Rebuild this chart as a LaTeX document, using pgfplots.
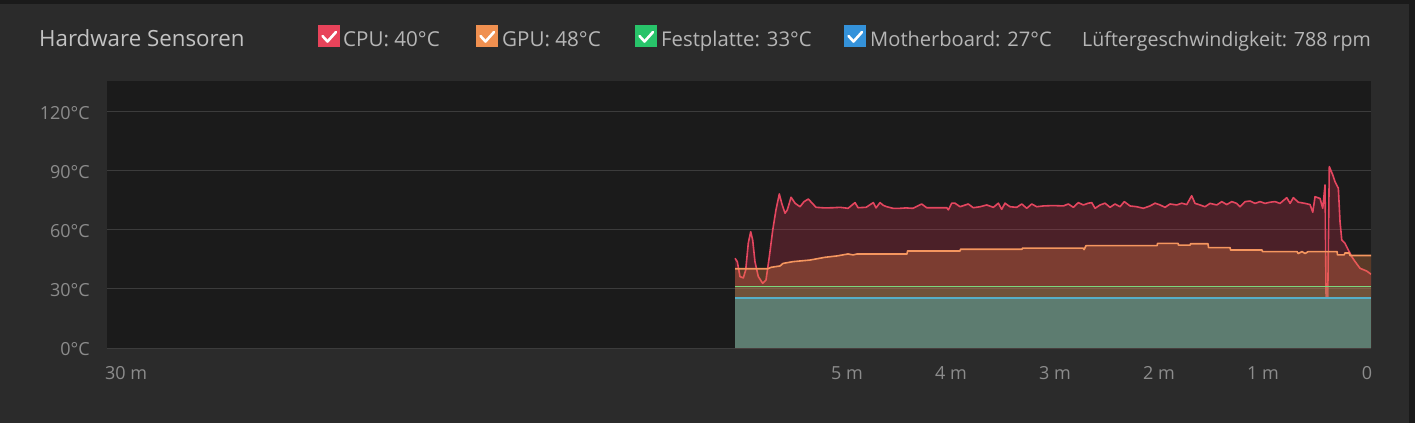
\documentclass[border=0pt]{standalone}
\usepackage{fontspec}
\setmainfont{Open Sans}
\usepackage{pgfplots}
\pgfplotsset{compat=1.18}
\usepackage{pgfplotstable}

\definecolor{panel}{RGB}{43,43,43}
\definecolor{frame}{RGB}{26,26,26}
\definecolor{plotbg}{RGB}{27,27,27}
\definecolor{gridc}{RGB}{60,60,60}
\definecolor{titlec}{RGB}{195,195,195}
\definecolor{legc}{RGB}{182,182,182}
\definecolor{tickc}{RGB}{140,140,140}
\definecolor{cpubox}{RGB}{232,67,90}
\definecolor{gpubox}{RGB}{240,144,80}
\definecolor{hddbox}{RGB}{40,196,106}
\definecolor{mbbox}{RGB}{52,146,218}
\definecolor{cpufill}{RGB}{235,50,85}
\definecolor{gpufill}{RGB}{240,130,70}
\definecolor{hddfill}{RGB}{46,204,113}
\definecolor{mbfill}{RGB}{60,200,210}
\definecolor{cpuline}{RGB}{228,70,95}
\definecolor{gpuline}{RGB}{245,150,95}
\definecolor{hddline}{RGB}{125,215,125}
\definecolor{mbline}{RGB}{85,175,200}

% minutes before now, degC
\pgfplotstableread{
t T
-6.077 45.6
-6.055 43.9
-6.029 36.3
-5.997 35.6
-5.974 39.7
-5.949 53.4
-5.926 59.1
-5.907 54.9
-5.885 43.9
-5.853 36.3
-5.811 32.9
-5.779 34.6
-5.747 46.4
-5.714 60.0
-5.683 70.2
-5.651 78.3
-5.628 73.6
-5.596 68.5
-5.574 70.2
-5.538 76.6
-5.500 73.6
-5.452 71.8
-5.413 74.4
-5.372 75.7
-5.340 73.9
-5.298 71.5
-5.212 71.2
-5.135 71.3
-5.067 71.5
-4.990 71.0
-4.923 73.9
-4.894 71.3
-4.817 71.5
-4.747 73.9
-4.721 71.2
-4.683 73.9
-4.651 72.5
-4.618 71.8
-4.558 71.0
-4.490 71.0
-4.433 71.2
-4.365 71.0
-4.282 73.2
-4.234 71.3
-4.138 71.3
-4.041 71.3
-4.026 70.2
-3.993 73.6
-3.962 73.6
-3.913 71.8
-3.834 73.2
-3.786 71.3
-3.721 71.8
-3.657 72.7
-3.593 71.5
-3.545 73.6
-3.513 70.5
-3.481 73.6
-3.433 71.8
-3.368 71.5
-3.320 73.2
-3.272 71.0
-3.224 73.2
-3.176 71.8
-3.113 72.2
-3.019 72.4
-2.920 72.2
-2.872 73.2
-2.824 71.5
-2.776 73.9
-2.728 72.7
-2.680 73.6
-2.647 73.9
-2.615 71.0
-2.567 72.7
-2.519 73.6
-2.471 71.5
-2.423 73.2
-2.375 71.8
-2.334 74.4
-2.279 72.2
-2.214 71.8
-2.151 71.0
-2.087 72.2
-2.038 73.6
-1.990 72.7
-1.942 71.5
-1.894 73.2
-1.830 72.7
-1.782 73.6
-1.734 72.9
-1.686 77.4
-1.654 73.5
-1.606 72.7
-1.558 71.8
-1.510 73.5
-1.445 72.7
-1.397 74.4
-1.349 72.9
-1.301 74.4
-1.253 73.5
-1.221 71.8
-1.173 74.4
-1.125 74.7
-1.077 73.5
-1.029 74.4
-0.981 73.5
-0.933 74.1
-0.885 74.4
-0.837 73.5
-0.772 76.4
-0.740 73.5
-0.709 76.4
-0.661 74.1
-0.596 73.5
-0.548 72.9
-0.522 69.0
-0.500 76.9
-0.452 76.0
-0.426 71.0
-0.404 82.9
-0.394 25.5
-0.378 25.5
-0.363 92.2
-0.330 88.0
-0.308 84.5
-0.276 81.2
-0.260 64.2
-0.243 54.9
-0.212 53.2
-0.180 49.8
-0.147 46.4
-0.115 43.9
-0.067 40.5
-0.003 39.1
0.038 37.5
}\cpu

\pgfplotstableread{
t T
-6.077 40.3
-5.760 40.3
-5.731 41.0
-5.644 41.7
-5.615 43.0
-5.519 43.9
-5.356 44.7
-5.212 46.1
-5.096 46.8
-4.990 47.8
-4.942 47.3
-4.904 47.8
-4.423 47.8
-4.418 49.3
-3.913 49.3
-3.909 50.2
-3.317 50.2
-3.313 50.8
-2.731 50.8
-2.721 50.0
-2.702 52.0
-2.019 52.0
-2.014 53.2
-1.817 53.2
-1.813 52.3
-1.702 52.3
-1.697 53.0
-1.529 53.0
-1.524 51.0
-1.317 51.0
-1.313 49.8
-1.010 49.8
-1.005 49.0
-0.673 49.0
-0.663 48.0
-0.625 49.0
-0.596 48.0
-0.567 49.0
-0.288 49.0
-0.284 47.3
-0.221 47.3
-0.212 48.3
-0.173 48.3
-0.163 47.0
0.038 47.0
}\gpu

\pgfplotstableread{
t T
-6.077 31.3
0.038 31.3
}\hdd

\pgfplotstableread{
t T
-6.077 25.5
0.038 25.5
}\mb

\newcommand{\checkbox}[3]{% x, y (top left, px), colour
  \fill[#3] (#1pt,-#2pt) rectangle ++(22pt,-22pt);
  \draw[white, line width=2.6pt, line cap=round, line join=round]
    ([shift={(4.5pt,-11pt)}]#1pt,-#2pt) -- ++(5pt,-5.5pt) -- ++(8.5pt,9.5pt);
}

\begin{document}
\begin{tikzpicture}
\useasboundingbox (0pt,0pt) rectangle (1415pt,-423pt);
\fill[frame] (0pt,0pt) rectangle (1415pt,-423pt);
\fill[panel] (0pt,-3.5pt) rectangle (1409pt,-423pt);

\node[anchor=base west, inner sep=0pt, text=titlec, font=\fontsize{22.3}{24}\selectfont]
  at (39pt,-46pt) {Hardware Sensoren};

\checkbox{318}{25}{cpubox}
\node[anchor=base west, inner sep=0pt, text=legc, font=\fontsize{20.6}{24}\selectfont]
  at (343pt,-46pt) {CPU: 40°C};
\checkbox{476}{25}{gpubox}
\node[anchor=base west, inner sep=0pt, text=legc, font=\fontsize{20.6}{24}\selectfont]
  at (502pt,-46pt) {GPU: 48°C};
\checkbox{635}{25}{hddbox}
\node[anchor=base west, inner sep=0pt, text=legc, font=\fontsize{20.3}{24}\selectfont]
  at (661pt,-46pt) {Festplatte: 33°C};
\checkbox{844}{25}{mbbox}
\node[anchor=base west, inner sep=0pt, text=legc, font=\fontsize{20.1}{24}\selectfont]
  at (870pt,-46pt) {Motherboard: 27°C};
\node[anchor=base west, inner sep=0pt, text=legc, font=\fontsize{19.6}{24}\selectfont]
  at (1082pt,-46pt) {Lüftergeschwindigkeit: 788 rpm};

\begin{axis}[
  at={(107pt,-348pt)}, anchor=south west,
  width=1264pt, height=267pt, scale only axis,
  xmin=-12.115, xmax=0.038, ymin=0, ymax=135.7,
  axis background/.style={fill=plotbg},
  axis line style={draw=none},
  major tick length=0pt,
  xtick={-5,-4,-3,-2,-1,0},
  xticklabels={5 m,4 m,3 m,2 m,1 m,0},
  ytick={0,30,60,90,120},
  yticklabels={0°C,30°C,60°C,90°C,120°C},
  ymajorgrids, grid style={gridc, line width=1pt},
  ticklabel style={text=tickc, font=\fontsize{18}{20}\selectfont, inner sep=0pt},
  xticklabel style={anchor=north, yshift=-18pt},
  yticklabel style={anchor=east, xshift=-17pt, yshift=-1pt},
]
\addplot[draw=none, fill=cpufill, fill opacity=0.23] table {\cpu} \closedcycle;
\addplot[cpuline, line width=1.6pt, line join=round] table {\cpu};
\addplot[draw=none, fill=gpufill, fill opacity=0.30] table {\gpu} \closedcycle;
\addplot[gpuline, line width=1.6pt, line join=round] table {\gpu};
\addplot[draw=none, fill=hddfill, fill opacity=0.15] table {\hdd} \closedcycle;
\addplot[hddline, line width=1.6pt] table {\hdd};
\addplot[draw=none, fill=mbfill, fill opacity=0.36] table {\mb} \closedcycle;
\addplot[mbline, line width=1.6pt] table {\mb};
\end{axis}
\node[anchor=north west, inner sep=0pt, text=tickc, font=\fontsize{18}{20}\selectfont]
  at (105pt,-366pt) {30 m};
\end{tikzpicture}
\end{document}
